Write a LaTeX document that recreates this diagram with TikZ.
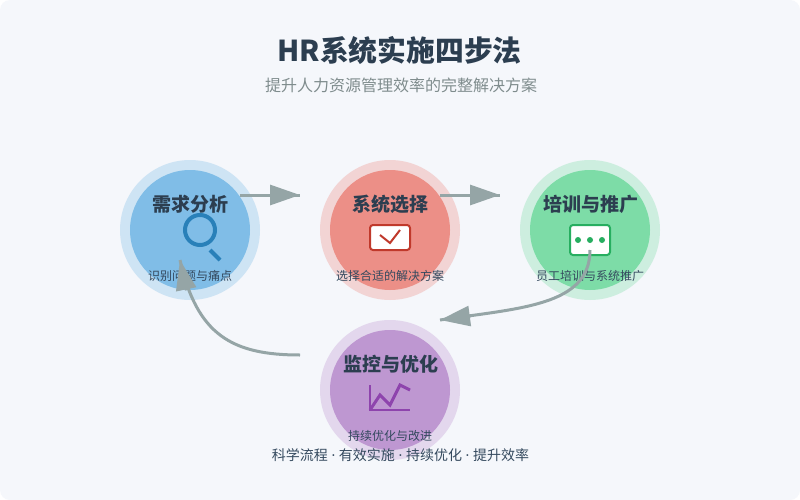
\documentclass[tikz,border=0pt]{standalone}
\usepackage{fontspec}
\setmainfont{Noto Sans CJK SC}
\newfontfamily\dotfont{Noto Sans}
\usetikzlibrary{arrows.meta,calc}
\definecolor{bgc}{HTML}{F5F7FB}
\definecolor{ink}{HTML}{2C3E50}
\definecolor{ink2}{HTML}{34495E}
\definecolor{subc}{HTML}{7F8C8D}
\definecolor{arr}{HTML}{95A5A6}
\definecolor{cblue}{HTML}{3498DB}
\definecolor{cred}{HTML}{E74C3C}
\definecolor{cgreen}{HTML}{2ECC71}
\definecolor{cpurple}{HTML}{9B59B6}
\definecolor{iblue}{HTML}{2980B9}
\definecolor{ired}{HTML}{C0392B}
\definecolor{igreen}{HTML}{27AE60}
\definecolor{ipurple}{HTML}{8E44AD}
\newcommand{\dotsep}{{\dotfont\ ·\ }}
\tikzset{
  x=1pt,y=-1pt,
  halo/.style={circle,inner sep=0pt,minimum size=140pt,fill=#1,fill opacity=.2},
  disc/.style={circle,inner sep=0pt,minimum size=120pt,fill=#1,fill opacity=.5},
  headt/.style={text=ink,font=\fontsize{19}{19}\selectfont\bfseries,anchor=center,inner sep=0pt},
  desct/.style={text=ink2,font=\fontsize{12}{12}\selectfont,anchor=center,inner sep=0pt},
  flow/.style={draw=arr,line width=3pt},
  flowhead/.style={draw=arr,line width=3pt,-{Triangle[length=30pt,width=20pt]}},
}
\begin{document}
\begin{tikzpicture}
\useasboundingbox (0,0) rectangle (800,500);
\fill[white] (0,0) rectangle (800,500);
\fill[bgc,rounded corners=10pt] (0,0) rectangle (800,500);
\node[text=ink,font=\fontsize{28.8}{28.8}\selectfont\bfseries,inner sep=0pt] (title) at (399.5,50) {HR系统实施四步法};
\node[text=subc,font=\fontsize{16}{16}\selectfont,inner sep=0pt] (subtitle) at (401,85) {提升人力资源管理效率的完整解决方案};
% discs
\node[halo=cblue] (h1) at (190,230) {};
\node[disc=cblue] (d1) at (190,230) {};
\node[halo=cred] (h2) at (390,230) {};
\node[disc=cred] (d2) at (390,230) {};
\node[halo=cgreen] (h3) at (590,230) {};
\node[disc=cgreen] (d3) at (590,230) {};
\node[halo=cpurple] (h4) at (390,390) {};
\node[disc=cpurple] (d4) at (390,390) {};
% icons
\draw[iblue,line width=4pt] (200,230) circle (15);
\draw[iblue,line width=4pt] (210,250) -- (220,260);
\draw[ired,line width=2pt,fill=white,rounded corners=3pt] (370,225) rectangle (410,250);
\draw[ired,line width=2pt] (380,235) -- (390,243) -- (400,230);
\draw[igreen,line width=2pt,fill=white,rounded corners=3pt] (570,225) rectangle (610,255);
\fill[igreen] (578,240) circle (3) (590,240) circle (3) (602,240) circle (3);
\draw[ipurple,line width=2pt] (370,385) -- (370,410) -- (410,410);
\draw[ipurple,line width=3pt] (370,410) -- (380,395) -- (390,405) -- (400,385) -- (410,390);
% labels
\node[headt] (t1) at (190,204) {需求分析};
\node[headt] (t2) at (390.5,204) {系统选择};
\node[headt] (t3) at (590.5,204) {培训与推广};
\node[headt] (t4) at (390.5,364) {监控与优化};
\node[desct] (s1) at (190,276) {识别问题与痛点};
\node[desct] (s2) at (390,276) {选择合适的解决方案};
\node[desct] (s3) at (590,276) {员工培训与系统推广};
\node[desct] (s4) at (390,436) {持续优化与改进};
\node[text=ink2,font=\fontsize{14}{14}\selectfont,inner sep=0pt] (foot) at (400.5,455) {科学流程\dotsep 有效实施\dotsep 持续优化\dotsep 提升效率};
% connectors
\coordinate (a1) at (240,195); \coordinate (b1) at (300,195);
\coordinate (a2) at (440,195); \coordinate (b2) at (500,195);
\coordinate (a3) at (590,250); \coordinate (q3) at (590,300); \coordinate (b3) at (440,320);
\coordinate (a4) at (300,355); \coordinate (q4) at (200,355); \coordinate (b4) at (180,260);
\draw[flow] (a1) -- (b1);
\draw[flowhead] ($(b1)!31pt!(a1)$) -- (b1);
\draw[flow] (a2) -- (b2);
\draw[flowhead] ($(b2)!31pt!(a2)$) -- (b2);
\draw[flow] (a3) .. controls (590,306) and (520,308) .. (b3);
\draw[flowhead] ($(b3)!31pt!(q3)$) -- (b3);
\draw[flow] (a4) .. controls (232,355) and (197,335) .. (b4);
\draw[flowhead] ($(b4)!31pt!(q4)$) -- (b4);
\end{tikzpicture}
\end{document}
